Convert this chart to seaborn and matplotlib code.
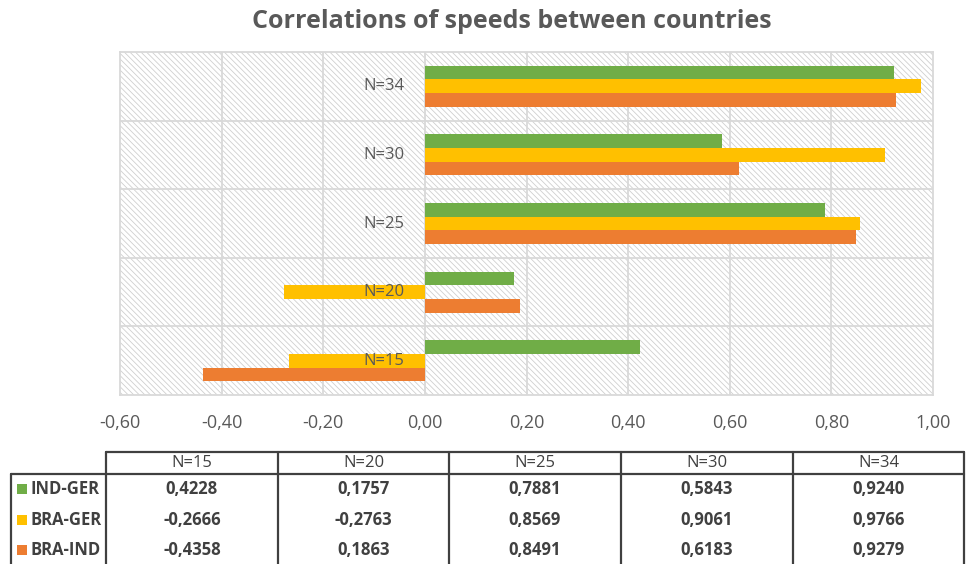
import pandas as pd
import matplotlib.pyplot as plt
import seaborn as sns
from matplotlib.patches import Rectangle
from matplotlib.ticker import FuncFormatter, MultipleLocator

# Values
sizes = ['N=15', 'N=20', 'N=25', 'N=30', 'N=34']
series = ['IND-GER', 'BRA-GER', 'BRA-IND']
ind_ger = [0.4228, 0.1757, 0.7881, 0.5843, 0.9240]
bra_ger = [-0.2666, -0.2763, 0.8569, 0.9061, 0.9766]
bra_ind = [-0.4358, 0.1863, 0.8491, 0.6183, 0.9279]
colors = ['#70AD47', '#FFC000', '#ED7D31']

rows = []
for name, vals in zip(series, [ind_ger, bra_ger, bra_ind]):
    for n, v in zip(sizes, vals):
        rows.append({'size': n, 'pair': name, 'corr': v})
data = pd.DataFrame(rows)

sns.set_style('white')
plt.rcParams['font.family'] = ['Open Sans', 'DejaVu Sans']
plt.rcParams['hatch.linewidth'] = 0.6
text_grey = '#595959'
grid_grey = '#D9D9D9'

fig = plt.figure(figsize=(9.67, 5.64), dpi=100)
W, H = 967, 564
ax = fig.add_axes([120 / W, 1 - 395 / H, (933 - 120) / W, (395 - 52) / H])

order = sizes[::-1]
sns.barplot(data=data, x='corr', y='size', hue='pair', order=order,
            hue_order=series, palette=colors, orient='h', width=0.6,
            gap=0, saturation=1, legend=False, linewidth=0, ax=ax, zorder=3)

ax.set_xlim(-0.6, 1.0)
ax.set_ylim(len(sizes) - 0.5, -0.5)

# hatched background
bg = Rectangle((-0.6, -0.5), 1.6, len(sizes), facecolor='white',
               edgecolor='#CFCFCF', hatch='\\\\\\\\\\\\', lw=0, zorder=0)
ax.add_patch(bg)

# grid
for xv in [-0.4, -0.2, 0.0, 0.2, 0.4, 0.6, 0.8]:
    ax.axvline(xv, color=grid_grey, lw=1.3, zorder=1)
for yv in [0.5, 1.5, 2.5, 3.5]:
    ax.axhline(yv, color=grid_grey, lw=1.3, zorder=1)
for s in ax.spines.values():
    s.set_color(grid_grey)
    s.set_linewidth(1.3)

ax.xaxis.set_major_locator(MultipleLocator(0.2))
ax.xaxis.set_major_formatter(FuncFormatter(lambda v, p: f'{v:.2f}'.replace('.', ',')))
ax.tick_params(axis='x', length=0, pad=14, labelsize=13, labelcolor=text_grey)
ax.set_yticks([])
ax.set_xlabel('')
ax.set_ylabel('')

# category labels next to the zero line
for i, n in enumerate(order):
    ax.text(-0.04, i, n, ha='right', va='center', fontsize=12,
            color=text_grey, zorder=4)

fig.text(512 / W, 1 - 22 / H, 'Correlations of speeds between countries',
         ha='center', va='center', fontsize=18, fontweight='bold', color=text_grey)

# data table below the chart, drawn in pixel coordinates
tab = fig.add_axes([0, 0, 1, 1])
tab.set_xlim(0, W)
tab.set_ylim(H, 0)
tab.axis('off')
tab.patch.set_alpha(0)

col_edges = [106, 278, 449, 621, 793, 964]
head_top, head_bot = 452, 474
row_h = 30.5
line_kw = dict(color='#404040', lw=1.6)
tab.plot([col_edges[0], col_edges[-1]], [head_top, head_top], **line_kw)
tab.plot([11, col_edges[-1]], [head_bot, head_bot], **line_kw)
for xe in col_edges:
    tab.plot([xe, xe], [head_top, H], **line_kw)
tab.plot([11, 11], [head_bot, H], **line_kw)

for j, n in enumerate(sizes):
    cx = (col_edges[j] + col_edges[j + 1]) / 2
    tab.text(cx, (head_top + head_bot) / 2, n, ha='center', va='center',
             fontsize=12, color='#404040')

for r, (name, vals, c) in enumerate(zip(series, [ind_ger, bra_ger, bra_ind], colors)):
    cy = head_bot + row_h * (r + 0.5)
    tab.add_patch(Rectangle((17, cy - 5), 10, 10, facecolor=c, lw=0))
    tab.text(31, cy, name, ha='left', va='center', fontsize=12,
             fontweight='bold', color='#404040')
    for j, v in enumerate(vals):
        cx = (col_edges[j] + col_edges[j + 1]) / 2
        tab.text(cx, cy, f'{v:.4f}'.replace('.', ','), ha='center', va='center',
                 fontsize=12, fontweight='bold', color='#404040')

fig.savefig('out.png', dpi=100)
